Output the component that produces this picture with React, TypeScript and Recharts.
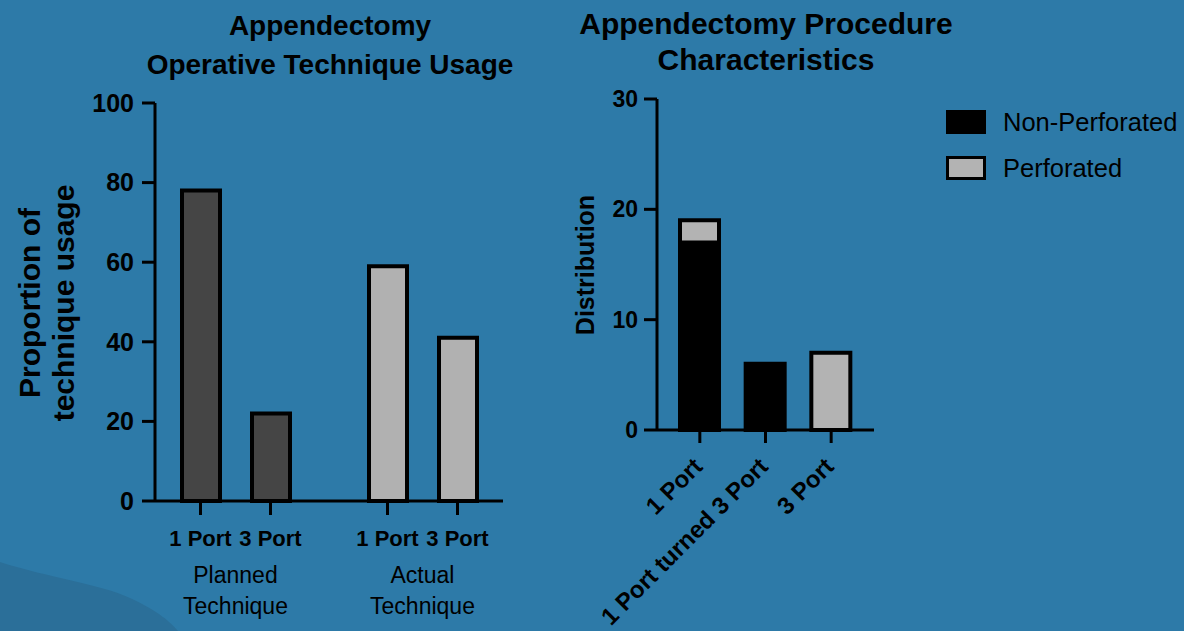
import { BarChart, Bar, XAxis, YAxis, Cell, Legend } from 'recharts';

// Operative technique usage (percent of cases)
const techniqueGroups = ['Planned Technique', 'Actual Technique'];
const portLabels = ['1 Port', '3 Port'];
const onePortUsage = [78, 59];
const threePortUsage = [22, 41];
const usageTicks = [0, 20, 40, 60, 80, 100];

// Procedure characteristics (case counts)
const procedureTypes = ['1 Port', '1 Port turned 3 Port', '3 Port'];
const nonPerforated = [17, 6, 0];
const perforated = [2, 0, 7];
const distributionTicks = [0, 10, 20, 30];

const usageData = techniqueGroups.map((group, i) => ({
  group,
  onePort: onePortUsage[i],
  threePort: threePortUsage[i],
}));

const procedureData = procedureTypes.map((type, i) => ({
  type,
  nonPerforated: nonPerforated[i],
  perforated: perforated[i],
}));

const FONT = '"Liberation Sans", Arial, Helvetica, sans-serif';
const BG = '#2d7aa8';
const groupFills = ['#454545', '#b1b1b1'];
const LIGHT = '#b3b3b3';
const BAR = 38;
const GAP = 32;

const axisStroke = { stroke: '#000', strokeWidth: 3 };

function TechniqueTick({ x, y, payload }: any) {
  const half = (BAR + GAP) / 2;
  const [first, second] = String(payload.value).split(' ');
  return (
    <g>
      {portLabels.map((label, i) => {
        const cx = x + (i === 0 ? -half : half);
        return (
          <g key={label}>
            <line x1={cx} x2={cx} y1={y} y2={y + 14} stroke="#000" strokeWidth={3} />
            <text x={cx} y={y + 45} textAnchor="middle" fontSize={22} fontWeight="bold" fill="#000">
              {label}
            </text>
          </g>
        );
      })}
      <text x={x} y={y + 82} textAnchor="middle" fontSize={23} fill="#000">
        {first}
      </text>
      <text x={x} y={y + 113} textAnchor="middle" fontSize={23} fill="#000">
        {second}
      </text>
    </g>
  );
}

function ProcedureTick({ x, y, payload }: any) {
  const tx = x + 4;
  const ty = y + 38;
  return (
    <g>
      <line x1={x} x2={x} y1={y} y2={y + 13} stroke="#000" strokeWidth={3} />
      <text
        x={tx}
        y={ty}
        transform={`rotate(-45, ${tx}, ${ty})`}
        textAnchor="end"
        fontSize={24}
        fontWeight="bold"
        fill="#000"
      >
        {payload.value}
      </text>
    </g>
  );
}

function ProcedureLegend({ payload }: any) {
  return (
    <div>
      {(payload || []).map((entry: any) => (
        <div key={entry.value} style={{ display: 'flex', alignItems: 'center', height: 46 }}>
          <div
            style={{
              width: 34,
              height: 18,
              background: entry.color,
              border: '3px solid #000',
              marginRight: 17,
            }}
          />
          <span style={{ fontSize: 25.5, color: '#000', whiteSpace: 'nowrap' }}>{entry.value}</span>
        </div>
      ))}
    </div>
  );
}

export default function App() {
  return (
    <div
      style={{
        position: 'fixed',
        left: 0,
        top: 0,
        width: 1184,
        height: 631,
        background: BG,
        overflow: 'hidden',
        fontFamily: FONT,
        color: '#000',
      }}
    >
      <svg width={1184} height={631} style={{ position: 'absolute', left: 0, top: 0 }}>
        <path d="M0 562 C 50 578, 100 584, 130 598 S 170 622, 178 631 L 0 631 Z" fill="#2b6f99" />
      </svg>

      {/* left panel */}
      <div
        style={{
          position: 'absolute',
          left: 30,
          top: 6,
          width: 600,
          textAlign: 'center',
          fontSize: 28,
          fontWeight: 'bold',
          lineHeight: '39px',
        }}
      >
        Appendectomy
        <br />
        Operative Technique Usage
      </div>
      <div
        style={{
          position: 'absolute',
          left: 47 - 150,
          top: 303 - 34,
          width: 300,
          height: 68,
          textAlign: 'center',
          fontSize: 30,
          fontWeight: 'bold',
          lineHeight: '34px',
          transform: 'rotate(-90deg)',
        }}
      >
        Proportion of
        <br />
        technique usage
      </div>
      <div style={{ position: 'absolute', left: 0, top: 0 }}>
        <BarChart
          width={520}
          height={631}
          data={usageData}
          margin={{ top: 103, right: 17, bottom: 5, left: 0 }}
          barGap={GAP}
        >
          <XAxis
            dataKey="group"
            height={125}
            padding={{ left: -13, right: -13 }}
            axisLine={axisStroke}
            tickLine={false}
            tickSize={0}
            tickMargin={0}
            interval={0}
            tick={<TechniqueTick />}
          />
          <YAxis
            width={155}
            domain={[0, 100]}
            ticks={usageTicks}
            interval={0}
            axisLine={axisStroke}
            tickLine={axisStroke}
            tickSize={13}
            tickMargin={8}
            tick={{ fill: '#000', fontSize: 25, fontWeight: 'bold' }}
          />
          <Bar dataKey="onePort" barSize={BAR} stroke="#000" strokeWidth={4} isAnimationActive={false}>
            {usageData.map((d, i) => (
              <Cell key={d.group} fill={groupFills[i]} />
            ))}
          </Bar>
          <Bar dataKey="threePort" barSize={BAR} stroke="#000" strokeWidth={4} isAnimationActive={false}>
            {usageData.map((d, i) => (
              <Cell key={d.group} fill={groupFills[i]} />
            ))}
          </Bar>
        </BarChart>
      </div>

      {/* right panel */}
      <div
        style={{
          position: 'absolute',
          left: 766 - 300,
          top: 6,
          width: 600,
          textAlign: 'center',
          fontSize: 30,
          fontWeight: 'bold',
          lineHeight: '36px',
        }}
      >
        Appendectomy Procedure
        <br />
        Characteristics
      </div>
      <div
        style={{
          position: 'absolute',
          left: 585 - 100,
          top: 265 - 15,
          width: 200,
          height: 30,
          textAlign: 'center',
          fontSize: 25,
          fontWeight: 'bold',
          lineHeight: '30px',
          transform: 'rotate(-90deg)',
        }}
      >
        Distribution
      </div>
      <div style={{ position: 'absolute', left: 560, top: 0 }}>
        <BarChart
          width={624}
          height={631}
          data={procedureData}
          margin={{ top: 99, right: 310, bottom: 5, left: 0 }}
        >
          <XAxis
            dataKey="type"
            height={196}
            padding={{ left: 10, right: 10 }}
            axisLine={axisStroke}
            tickLine={false}
            tickSize={0}
            tickMargin={0}
            interval={0}
            tick={<ProcedureTick />}
          />
          <YAxis
            width={97}
            domain={[0, 30]}
            ticks={distributionTicks}
            interval={0}
            axisLine={axisStroke}
            tickLine={axisStroke}
            tickSize={13}
            tickMargin={6}
            tick={{ fill: '#000', fontSize: 23, fontWeight: 'bold' }}
          />
          <Legend
            layout="vertical"
            align="center"
            verticalAlign="middle"
            content={<ProcedureLegend />}
            wrapperStyle={{ position: 'absolute', left: 386, top: 99, width: 240, height: 100 }}
          />
          <Bar
            dataKey="nonPerforated"
            name="Non-Perforated"
            stackId="cases"
            barSize={39}
            fill="#000"
            stroke="#000"
            strokeWidth={4}
            isAnimationActive={false}
          />
          <Bar
            dataKey="perforated"
            name="Perforated"
            stackId="cases"
            barSize={39}
            fill={LIGHT}
            stroke="#000"
            strokeWidth={4}
            isAnimationActive={false}
          />
        </BarChart>
      </div>
    </div>
  );
}
